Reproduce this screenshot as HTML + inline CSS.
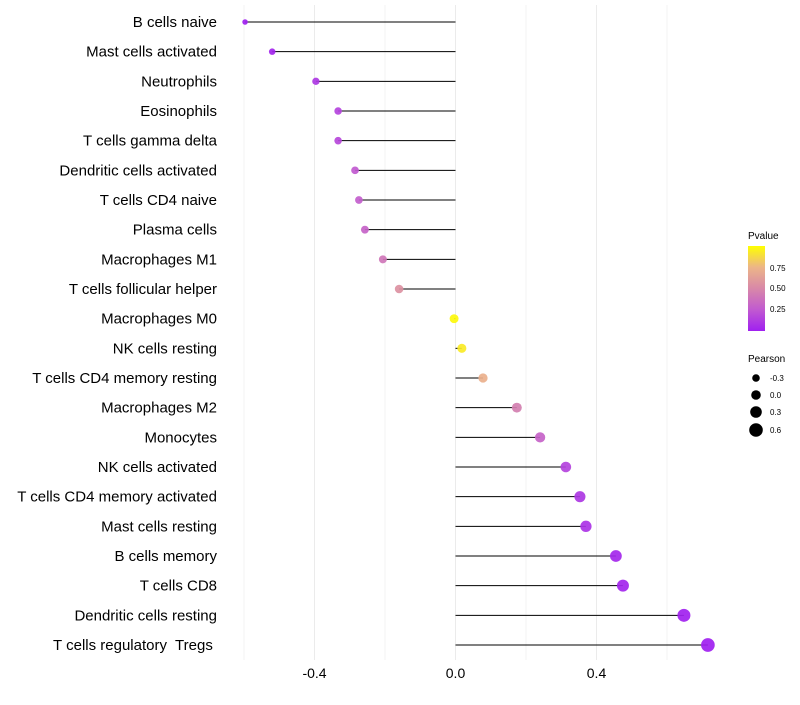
<!DOCTYPE html>
<html><head><meta charset="utf-8"><style>
body{margin:0;background:#fff;}
svg{font-family:"Liberation Sans",sans-serif;}
</style></head><body>
<svg id="chart" width="800" height="700" viewBox="0 0 800 700">
<defs><linearGradient id="pg" x1="0" y1="1" x2="0" y2="0">
<stop offset="0" stop-color="#a020f0"/><stop offset="0.25" stop-color="#c15ad0"/><stop offset="0.5" stop-color="#d888a8"/><stop offset="0.75" stop-color="#ecb588"/><stop offset="1" stop-color="#ffff00"/></linearGradient></defs>
<g id="grid"></g>
<g id="marks"></g>
<g id="ylabels"></g>
<g id="xlabels"></g>
<g>
<text x="748" y="239" font-size="10" fill="#000">Pvalue</text>
<rect x="748" y="246" width="17" height="85" fill="url(#pg)"/>
<text x="770" y="271" font-size="8">0.75</text>
<text x="770" y="291" font-size="8">0.50</text>
<text x="770" y="312" font-size="8">0.25</text>
</g>
<g>
<text x="748" y="362" font-size="10">Pearson</text>
<circle cx="756" cy="378" r="3.8"/><text x="770" y="381" font-size="8">-0.3</text>
<circle cx="756" cy="395" r="4.8"/><text x="770" y="398" font-size="8">0.0</text>
<circle cx="756" cy="412" r="5.8"/><text x="770" y="415" font-size="8">0.3</text>
<circle cx="756" cy="430" r="6.8"/><text x="770" y="433" font-size="8">0.6</text>
</g>
</svg>
<script>
const categories=["B cells naive","Mast cells activated","Neutrophils","Eosinophils","T cells gamma delta","Dendritic cells activated","T cells CD4 naive","Plasma cells","Macrophages M1","T cells follicular helper","Macrophages M0","NK cells resting","T cells CD4 memory resting","Macrophages M2","Monocytes","NK cells activated","T cells CD4 memory activated","Mast cells resting","B cells memory","T cells CD8","Dendritic cells resting","T cells regulatory  Tregs "];
const pearson=[-0.597,-0.52,-0.396,-0.333,-0.333,-0.285,-0.274,-0.257,-0.206,-0.16,-0.004,0.018,0.078,0.174,0.24,0.313,0.353,0.37,0.455,0.475,0.648,0.716];
const pvalue=[0.0,0.02,0.1,0.15,0.17,0.25,0.27,0.3,0.4,0.55,0.98,0.93,0.72,0.45,0.3,0.15,0.1,0.08,0.03,0.02,0.005,0.002];
const sizeValue=[-0.6,-0.45,-0.33,-0.3,-0.3,-0.28,-0.28,-0.25,-0.24,-0.15,-0.1,-0.08,-0.05,0.05,0.1,0.15,0.22,0.25,0.32,0.35,0.5,0.6];
const xTicks=[-0.4,0.0,0.4];
const xTickLabels=["-0.4","0.0","0.4"];
const gridVals=[-0.6,-0.4,-0.2,0,0.2,0.4,0.6];
const NS="http://www.w3.org/2000/svg";
const x=v=>455.5+v*352.5;
const y=i=>22+i*(623/21);
const r=v=>4.8+3.4*v;
const stops=[[0,[160,32,240]],[0.25,[193,90,208]],[0.5,[216,136,168]],[0.75,[236,181,136]],[1,[255,255,0]]];
function col(p){for(let k=0;k<stops.length-1;k++){const a=stops[k],b=stops[k+1];if(p<=b[0]){const t=(p-a[0])/(b[0]-a[0]);return "rgb("+a[1].map((c,j)=>Math.round(c+(b[1][j]-c)*t)).join(",")+")";}}return "rgb(255,255,0)";}
function mk(t,attrs,parent){const e=document.createElementNS(NS,t);for(const k in attrs)e.setAttribute(k,attrs[k]);parent.appendChild(e);return e;}
const grid=document.getElementById('grid');
gridVals.forEach(v=>{const l=mk('line',{x1:x(v),x2:x(v),y1:5,y2:660,stroke:'#ebebeb','stroke-width':Math.abs(Math.round(v*10))%4===0?1:0.6},grid);

});
const marks=document.getElementById('marks'),yl=document.getElementById('ylabels'),xl=document.getElementById('xlabels');
categories.forEach((c,i)=>{
const l=mk('line',{x1:x(0),x2:x(pearson[i]),y1:y(i),y2:y(i),stroke:'#000','stroke-width':1},marks);


const p=mk('circle',{cx:x(pearson[i]),cy:y(i),r:r(sizeValue[i]),fill:col(pvalue[i]),'fill-opacity':0.92},marks);


const t=mk('text',{x:217,y:y(i)+5,'text-anchor':'end','font-size':15,fill:'#000',style:'white-space:pre'},yl);t.textContent=c;


});
xTicks.forEach((v,i)=>{const t=mk('text',{x:x(v),y:678,'text-anchor':'middle','font-size':14,fill:'#000'},xl);t.textContent=xTickLabels[i];

});
</script>
</body></html>
